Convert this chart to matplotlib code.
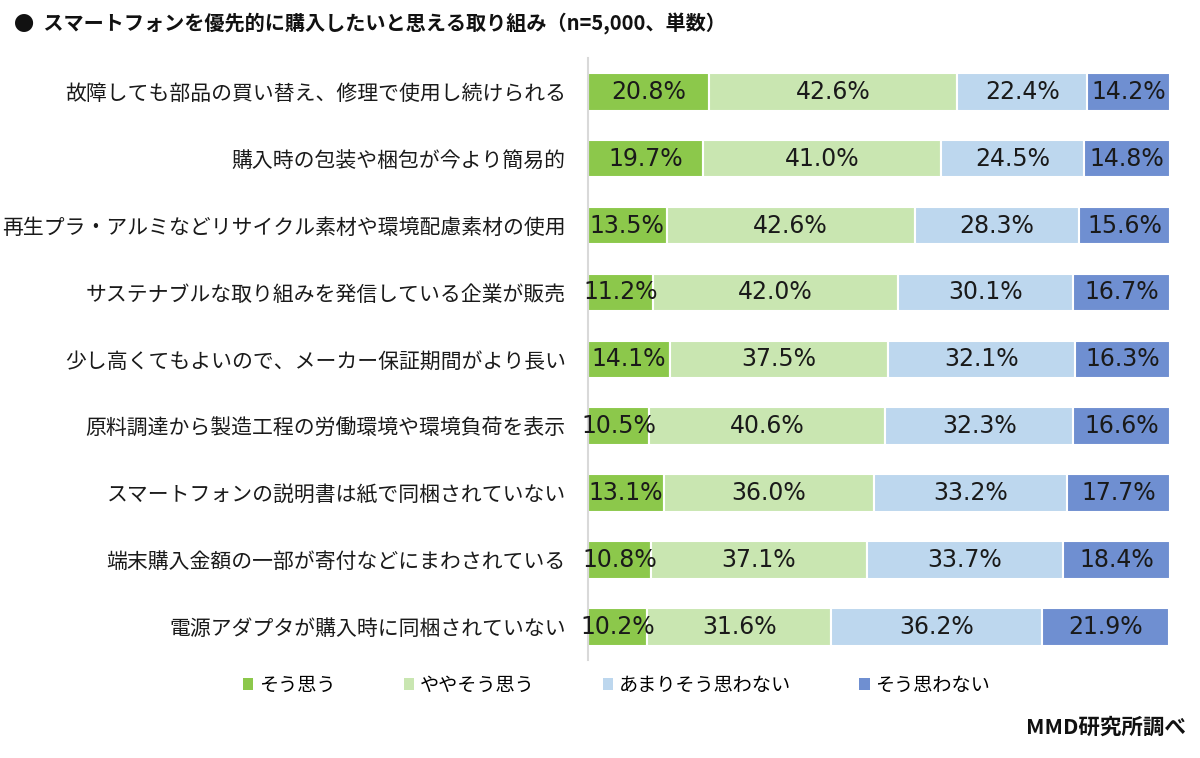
import matplotlib.pyplot as plt
from matplotlib.patches import Patch

plt.rcParams['font.family'] = ['Noto Sans CJK JP', 'DejaVu Sans']

# data
items = [
    "故障しても部品の買い替え、修理で使用し続けられる",
    "購入時の包装や梱包が今より簡易的",
    "再生プラ・アルミなどリサイクル素材や環境配慮素材の使用",
    "サステナブルな取り組みを発信している企業が販売",
    "少し高くてもよいので、メーカー保証期間がより長い",
    "原料調達から製造工程の労働環境や環境負荷を表示",
    "スマートフォンの説明書は紙で同梱されていない",
    "端末購入金額の一部が寄付などにまわされている",
    "電源アダプタが購入時に同梱されていない",
]
answers = ["そう思う", "ややそう思う", "あまりそう思わない", "そう思わない"]
agree = [20.8, 19.7, 13.5, 11.2, 14.1, 10.5, 13.1, 10.8, 10.2]
some_agree = [42.6, 41.0, 42.6, 42.0, 37.5, 40.6, 36.0, 37.1, 31.6]
not_much = [22.4, 24.5, 28.3, 30.1, 32.1, 32.3, 33.2, 33.7, 36.2]
disagree = [14.2, 14.8, 15.6, 16.7, 16.3, 16.6, 17.7, 18.4, 21.9]

colors = ["#8cc84b", "#c9e6b1", "#bdd7ee", "#6f8fd1"]

fig = plt.figure(figsize=(12, 7.58), dpi=100)
ax = fig.add_axes([0.49, 0.129, 0.485, 0.794])

ypos = list(range(len(items)))
left = [0.0] * len(items)
for series, col in zip([agree, some_agree, not_much, disagree], colors):
    bars = ax.barh(ypos, series, left=left, height=0.56, color=col,
                   edgecolor="white", linewidth=1.5)
    for b, v in zip(bars, series):
        ax.text(b.get_x() + b.get_width() / 2, b.get_y() + b.get_height() / 2,
                f"{v:.1f}%", ha="center", va="center", fontsize=17,
                family="DejaVu Sans", color="#1a1a1a")
    left = [l + v for l, v in zip(left, series)]

ax.set_xlim(0, 100)
ax.set_ylim(len(items) - 0.5, -0.5)
ax.set_yticks(ypos)
ax.set_yticklabels(items, fontsize=15, color="#1a1a1a")
ax.tick_params(axis="y", length=0, pad=16)
ax.set_xticks([])
for s in ["top", "right", "bottom"]:
    ax.spines[s].set_visible(False)
ax.spines["left"].set_color("#d9d9d9")
ax.spines["left"].set_linewidth(1.5)

fig.text(0.012, 0.968, "●  スマートフォンを優先的に購入したいと思える取り組み（n=5,000、単数）",
         fontsize=14.5, fontweight="bold", va="center", ha="left", color="#111111")

handles = [Patch(facecolor=c, edgecolor="none") for c in colors]
fig.legend(handles, answers, loc="center left", bbox_to_anchor=(0.188, 0.096),
           ncol=4, frameon=False, fontsize=13.8, handlelength=0.55, handleheight=0.6,
           handletextpad=0.3, columnspacing=3.55)

fig.text(0.988, 0.04, "MMD研究所調べ", fontsize=15.5, fontweight="bold",
         ha="right", va="center", color="#111111")

fig.savefig("out.png", dpi=100)
